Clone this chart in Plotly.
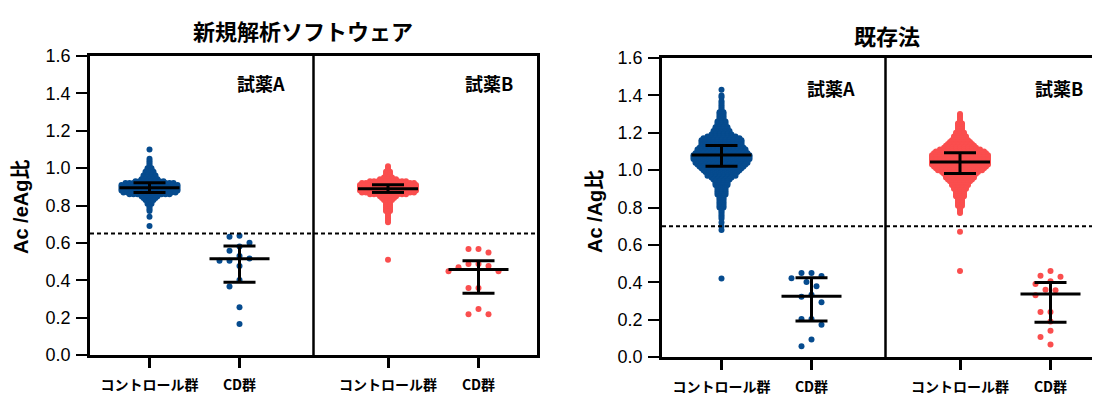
import plotly.graph_objects as go

# ---------------- data ----------------
groups = ["コントロール群", "CD群"]
reagents = ["試薬A", "試薬B"]
chart_titles = ["新規解析ソフトウェア", "既存法"]
y_titles = ["Ac /eAg比", "Ac /Ag比"]
cutoffs = [0.65, 0.70]
y_ticks = [0.0, 0.2, 0.4, 0.6, 0.8, 1.0, 1.2, 1.4, 1.6]

new_ctrlA_vals = [1.10, 1.05, 1.04, 1.03, 1.02, 1.01, 1.00, 0.99, 0.98, 0.97, 0.96, 0.95, 0.94, 0.93,
                  0.92, 0.91, 0.90, 0.89, 0.88, 0.87, 0.86, 0.85, 0.84, 0.83, 0.82, 0.81, 0.80, 0.79,
                  0.78, 0.77, 0.74, 0.69]
new_ctrlA_counts = [1, 1, 1, 1, 1, 1, 2, 2, 3, 3, 4, 4, 5, 8,
                    13, 15, 15, 15, 15, 14, 11, 5, 4, 3, 2, 2, 1, 1,
                    1, 1, 1, 1]

new_ctrlB_vals = [1.01, 1.00, 0.99, 0.98, 0.97, 0.96, 0.95, 0.94, 0.93, 0.92, 0.91, 0.90, 0.89, 0.88,
                  0.87, 0.86, 0.85, 0.84, 0.83, 0.82, 0.81, 0.80, 0.79, 0.78, 0.77, 0.76, 0.75, 0.74,
                  0.73, 0.72, 0.71, 0.51]
new_ctrlB_counts = [1, 1, 1, 2, 2, 2, 3, 5, 10, 14, 15, 15, 15, 15,
                    14, 10, 5, 4, 3, 2, 2, 2, 2, 2, 2, 1, 1, 1,
                    1, 1, 1, 1]

old_ctrlA_vals = [1.43, 1.40, 1.39, 1.37, 1.36, 1.35, 1.34, 1.33, 1.32, 1.31, 1.30, 1.29, 1.28, 1.27,
                  1.26, 1.25, 1.24, 1.23, 1.22, 1.21, 1.20, 1.19, 1.18, 1.17, 1.16, 1.15, 1.14, 1.13,
                  1.12, 1.11, 1.10, 1.09, 1.08, 1.07, 1.06, 1.05, 1.04, 1.03, 1.02, 1.01, 1.00, 0.99,
                  0.98, 0.97, 0.96, 0.95, 0.94, 0.93, 0.92, 0.91, 0.90, 0.89, 0.88, 0.87, 0.86, 0.85,
                  0.84, 0.83, 0.82, 0.81, 0.80, 0.79, 0.78, 0.77, 0.76, 0.75, 0.74, 0.72, 0.70, 0.68,
                  0.42]
old_ctrlA_counts = [1, 1, 1, 1, 1, 1, 1, 1, 1, 2, 2, 2, 2, 2,
                    3, 3, 3, 4, 4, 5, 5, 6, 8, 10, 11, 11, 11, 11,
                    12, 13, 13, 14, 15, 15, 15, 14, 14, 13, 12, 11, 10, 9,
                    8, 8, 6, 5, 4, 4, 4, 3, 3, 3, 3, 3, 2, 2,
                    2, 2, 2, 2, 2, 1, 1, 1, 1, 1, 1, 1, 1, 1,
                    1]

old_ctrlB_vals = [1.30, 1.29, 1.28, 1.27, 1.26, 1.25, 1.24, 1.23, 1.22, 1.21, 1.20, 1.19, 1.18, 1.17,
                  1.16, 1.15, 1.14, 1.13, 1.12, 1.11, 1.10, 1.09, 1.08, 1.07, 1.06, 1.05, 1.04, 1.03,
                  1.02, 1.01, 1.00, 0.99, 0.98, 0.97, 0.96, 0.95, 0.94, 0.93, 0.92, 0.91, 0.90, 0.89,
                  0.88, 0.87, 0.86, 0.85, 0.84, 0.83, 0.82, 0.81, 0.80, 0.79, 0.78, 0.77, 0.67, 0.46]
old_ctrlB_counts = [1, 1, 1, 1, 1, 2, 2, 2, 2, 2, 3, 3, 4, 4,
                    5, 6, 7, 8, 9, 11, 13, 14, 15, 15, 15, 15, 15, 15,
                    14, 13, 12, 10, 9, 8, 8, 7, 6, 5, 5, 4, 4, 3,
                    3, 3, 3, 2, 2, 2, 2, 2, 1, 1, 1, 1, 1, 1]

# CD groups: individual values
new_cdA = [0.638, 0.633, 0.601, 0.580, 0.558, 0.530, 0.517, 0.505, 0.505, 0.476, 0.401, 0.366, 0.255, 0.166]
new_cdB = [0.567, 0.567, 0.548, 0.487, 0.487, 0.476, 0.469, 0.448, 0.448, 0.358, 0.358, 0.246, 0.218, 0.218]
old_cdA = [0.449, 0.449, 0.433, 0.422, 0.401, 0.379, 0.333, 0.322, 0.293, 0.204, 0.204, 0.172, 0.093, 0.057]
old_cdB = [0.460, 0.435, 0.430, 0.405, 0.390, 0.360, 0.357, 0.330, 0.241, 0.241, 0.190, 0.140, 0.107, 0.067]

# median and interquartile range per group (ctrl A, CD A, ctrl B, CD B)
new_median = [0.895, 0.515, 0.890, 0.458]
new_q1 = [0.870, 0.389, 0.870, 0.330]
new_q3 = [0.922, 0.583, 0.911, 0.505]
old_median = [1.081, 0.325, 1.043, 0.337]
old_q1 = [1.021, 0.192, 0.982, 0.186]
old_q3 = [1.132, 0.424, 1.093, 0.398]

# ---------------- styling / layout constants ----------------
BLUE = "#064B8E"
RED = "#FA4E4E"
W, H = 1100, 396
OFF = 8                        # page body margin: figure is drawn 8px right/down in the window
PX_PER_Y = 299 / 1.6           # pixels per y unit
CAT_POS = [59.5, 149.5, 298.0, 388.5]   # x positions (px from y-axis) of the 4 groups
DIVIDER = 223.5
ROW_STEP = 4.0                 # horizontal spacing of dense control points (px)
MARKER = 6
MED_HALF = 30
CAP_HALF = 16


def px_x(x):
    return (x - OFF) / W


def px_y(y):
    return 1 - (y - OFF) / H


def rows_to_points(vals, counts, center):
    xs, ys = [], []
    for v, n in zip(vals, counts):
        for i in range(n):
            xs.append(center + (i - (n - 1) / 2) * ROW_STEP)
            ys.append(v)
    return xs, ys


def swarm(values, center, min_d=9.0, step=5.0):
    order = sorted(range(len(values)), key=lambda i: -values[i])
    placed = []
    xs = [0.0] * len(values)
    cands = [0.0]
    for k in range(1, 12):
        cands += [-k * step, k * step]
    for i in order:
        yp = values[i] * PX_PER_Y
        chosen = cands[-1]
        for c in cands:
            if all((c - ox) ** 2 + (yp - oy) ** 2 >= min_d ** 2 for ox, oy in placed):
                chosen = c
                break
        placed.append((chosen, yp))
        xs[i] = center + chosen
    return xs, list(values)


def summary_trace(med, q1, q3, xa, ya):
    xs, ys = [], []
    for p, m, lo, hi in zip(CAT_POS, med, q1, q3):
        xs += [p - MED_HALF, p + MED_HALF, None, p - CAP_HALF, p + CAP_HALF, None,
               p - CAP_HALF, p + CAP_HALF, None, p, p, None]
        ys += [m, m, None, lo, lo, None, hi, hi, None, lo, hi, None]
    return go.Scatter(x=xs, y=ys, mode="lines", line=dict(color="black", width=3),
                      xaxis=xa, yaxis=ya, hoverinfo="skip", showlegend=False)


fig = go.Figure()

charts = [
    dict(xa="x", ya="y", ctrl=[(new_ctrlA_vals, new_ctrlA_counts), (new_ctrlB_vals, new_ctrlB_counts)],
         cd=[new_cdA, new_cdB], med=new_median, q1=new_q1, q3=new_q3),
    dict(xa="x2", ya="y2", ctrl=[(old_ctrlA_vals, old_ctrlA_counts), (old_ctrlB_vals, old_ctrlB_counts)],
         cd=[old_cdA, old_cdB], med=old_median, q1=old_q1, q3=old_q3),
]

for ch in charts:
    for r, color in enumerate([BLUE, RED]):
        vals, counts = ch["ctrl"][r]
        xs, ys = rows_to_points(vals, counts, CAT_POS[2 * r])
        fig.add_trace(go.Scatter(x=xs, y=ys, mode="markers", xaxis=ch["xa"], yaxis=ch["ya"],
                                 marker=dict(color=color, size=MARKER, line=dict(width=0)),
                                 showlegend=False, hoverinfo="y"))
        xs, ys = swarm(ch["cd"][r], CAT_POS[2 * r + 1])
        fig.add_trace(go.Scatter(x=xs, y=ys, mode="markers", xaxis=ch["xa"], yaxis=ch["ya"],
                                 marker=dict(color=color, size=MARKER, line=dict(width=0)),
                                 showlegend=False, hoverinfo="y"))
    fig.add_trace(summary_trace(ch["med"], ch["q1"], ch["q3"], ch["xa"], ch["ya"]))

tick_text = ["<b>" + g + "</b>" for g in groups] * 2
xcommon = dict(tickmode="array", tickvals=CAT_POS, ticktext=tick_text, ticks="outside",
               ticklen=10, tickwidth=2.5, tickcolor="black", showline=True, linecolor="black",
               linewidth=2.5, showgrid=False, zeroline=False, ticklabelstandoff=5, automargin=False,
               tickfont=dict(family="Noto Sans CJK JP", size=14, color="black"), fixedrange=True)
ycommon = dict(range=[0, 1.6], tickmode="array", tickvals=y_ticks, tickformat=".1f",
               ticks="outside", ticklen=11, tickwidth=2, tickcolor="black", showline=True,
               linecolor="black", linewidth=2.5, showgrid=False, zeroline=False, automargin=False,
               tickfont=dict(family="Liberation Sans, Arial", size=18, color="black"),
               ticklabelstandoff=2, fixedrange=True)

# plot areas in window pixels: left chart x 90..537, y 56..355 ; right chart x 662..(edge), y 58..357
fig.update_layout(
    template="none",
    width=W, height=H, margin=dict(l=0, r=0, t=0, b=0, pad=0), autosize=False,
    paper_bgcolor="white", plot_bgcolor="white", showlegend=False,
    xaxis=dict(domain=[px_x(90), px_x(537)], range=[0, 447], mirror=True, anchor="y", **xcommon),
    yaxis=dict(domain=[px_y(355), px_y(56)], mirror=True, anchor="x", **ycommon),
    xaxis2=dict(domain=[px_x(662), 1.0], range=[0, W + OFF - 662], mirror=True, anchor="y2", **xcommon),
    yaxis2=dict(domain=[px_y(357), px_y(58)], mirror=False, anchor="x2", **ycommon),
)

shapes = []
for xa, ya, cut in [("x", "y", cutoffs[0]), ("x2", "y2", cutoffs[1])]:
    shapes.append(dict(type="line", xref=xa + " domain", yref=ya, x0=0, x1=1, y0=cut, y1=cut,
                       line=dict(color="black", width=2, dash="4px,3px")))
    shapes.append(dict(type="line", xref=xa, yref=ya, x0=DIVIDER, x1=DIVIDER, y0=0, y1=1.6,
                       line=dict(color="black", width=2.5)))
fig.update_layout(shapes=shapes)

ann = []
def add_text(text, x, y, size, angle=0, family="Noto Sans CJK JP"):
    ann.append(dict(text="<b>" + text + "</b>", x=px_x(x), y=px_y(y), xref="paper", yref="paper",
                    showarrow=False, xanchor="center", yanchor="middle", textangle=angle,
                    font=dict(family=family, size=size, color="black")))

add_text(chart_titles[0], 303, 30, 22)
add_text(chart_titles[1], 887, 35, 22)
add_text(reagents[0], 261, 83, 18)
add_text(reagents[1], 489, 83, 18)
add_text(reagents[0], 831, 88, 18)
add_text(reagents[1], 1059, 88, 18)
add_text(y_titles[0], 21, 207, 20, -90, "Liberation Sans, Noto Sans CJK JP")
add_text(y_titles[1], 595, 212, 20, -90, "Liberation Sans, Noto Sans CJK JP")
fig.update_layout(annotations=ann)

fig.write_html("out.html")
